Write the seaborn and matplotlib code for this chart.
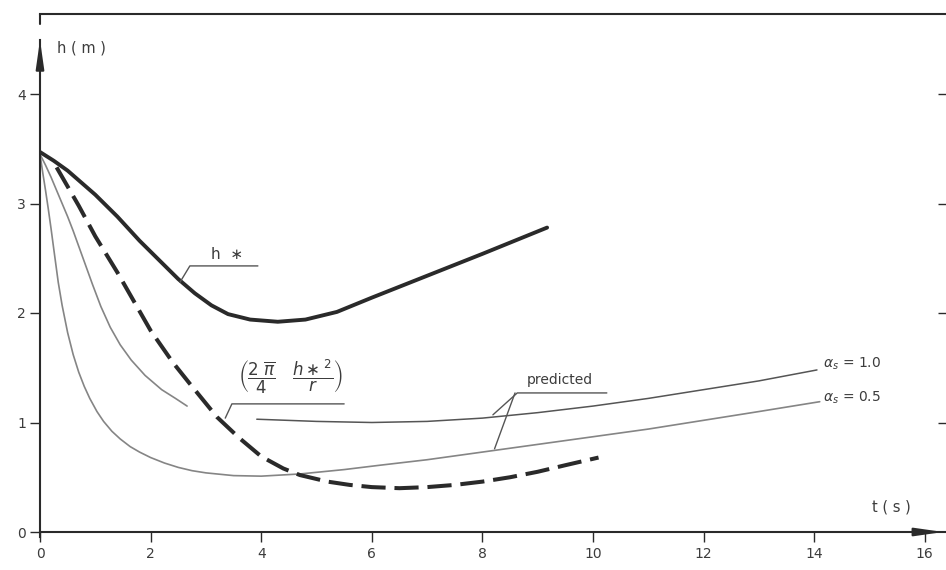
import matplotlib
matplotlib.use("Agg")
import matplotlib.pyplot as plt
import pandas as pd
import seaborn as sns

# ---------------- data ----------------
hstar_t = [0, 0.25, 0.5, 0.75, 1.0, 1.4, 1.8, 2.2, 2.5, 2.8, 3.1, 3.4, 3.8, 4.3, 4.8, 5.37, 6.0, 7.0, 8.0, 9.17]
hstar_h = [3.47, 3.39, 3.30, 3.19, 3.08, 2.88, 2.66, 2.46, 2.31, 2.18, 2.07, 1.99, 1.94, 1.92, 1.94, 2.01, 2.14, 2.34, 2.54, 2.78]

bound_t = [0.3, 0.7, 1.0, 1.4, 2.0, 2.4, 2.7, 3.2, 3.6, 4.0, 4.4, 4.7, 5.2, 5.6, 6.0, 6.5, 7.0, 7.5, 8.0, 8.5, 9.0, 9.5, 10.1]
bound_h = [3.33, 2.98, 2.70, 2.37, 1.84, 1.55, 1.36, 1.05, 0.86, 0.69, 0.58, 0.52, 0.46, 0.43, 0.41, 0.40, 0.41, 0.43, 0.46, 0.50, 0.55, 0.61, 0.68]

mid_t = [0, 0.1, 0.2, 0.3, 0.4, 0.5, 0.6, 0.7, 0.8, 0.95, 1.1, 1.27, 1.45, 1.65, 1.9, 2.2, 2.45, 2.66]
mid_h = [3.45, 3.35, 3.24, 3.12, 3.00, 2.88, 2.75, 2.61, 2.47, 2.26, 2.06, 1.87, 1.71, 1.57, 1.43, 1.30, 1.22, 1.15]

a05_t = [0, 0.05, 0.1, 0.15, 0.2, 0.25, 0.33, 0.4, 0.5, 0.6, 0.7, 0.8, 0.9, 1.03, 1.15, 1.3, 1.45, 1.63, 1.8, 2.0,
         2.25, 2.5, 2.75, 3.0, 3.5, 4.0, 4.7, 5.5, 6.15, 7, 8, 9, 10, 11, 12, 13, 14.1]
a05_h = [3.45, 3.28, 3.12, 2.95, 2.77, 2.58, 2.28, 2.07, 1.82, 1.62, 1.46, 1.33, 1.22, 1.10, 1.01, 0.92, 0.85, 0.78, 0.73, 0.68,
         0.63, 0.59, 0.56, 0.54, 0.515, 0.51, 0.53, 0.57, 0.61, 0.66, 0.73, 0.80, 0.87, 0.94, 1.02, 1.10, 1.19]

a10_t = [3.92, 5, 6, 7, 8, 9, 10, 11, 12, 13, 14.05]
a10_h = [1.03, 1.01, 1.00, 1.01, 1.04, 1.09, 1.15, 1.22, 1.30, 1.38, 1.48]

x_ticks = [0, 2, 4, 6, 8, 10, 12, 14, 16]
x_tick_labels = ["0", "2", "4", "6", "8", "10", "12", "14", "16"]
y_ticks = [0, 1, 2, 3, 4]
y_tick_labels = ["0", "1", "2", "3", "4"]

# ---------------- style ----------------
sns.set_theme(style="white")
plt.rcParams["font.family"] = ["DejaVu Sans"]
plt.rcParams["mathtext.fontset"] = "dejavusans"

ink = "#2a2a2a"
txt = "#3c3c3c"
thin_light = "#858585"
thin_dark = "#555555"

fig = plt.figure(figsize=(9.46, 5.70), dpi=100)
ax = fig.add_axes([40 / 946, 38 / 570, 906 / 946, 518 / 570])

def draw(t, h, **kw):
    df = pd.DataFrame({"t": t, "h": h})
    sns.lineplot(data=df, x="t", y="h", ax=ax, sort=False, estimator=None, **kw)

draw(mid_t, mid_h, color=thin_light, linewidth=1.2)
draw(a05_t, a05_h, color=thin_light, linewidth=1.2)
draw(a10_t, a10_h, color=thin_dark, linewidth=1.1)
draw(bound_t, bound_h, color=ink, linewidth=2.9, linestyle=(0, (6, 2.2)))
draw(hstar_t, hstar_h, color=ink, linewidth=2.8)

ax.set_xlim(0, 906 / 55.3)
ax.set_ylim(0, 518 / 109.5)
ax.set_xlabel("")
ax.set_ylabel("")

ax.set_xticks(x_ticks)
ax.set_xticklabels(x_tick_labels)
ax.set_yticks(y_ticks)
ax.set_yticklabels(y_tick_labels)
ax.tick_params(axis="both", direction="out", length=7, width=1.0, color=ink,
               labelsize=10, labelcolor=txt, bottom=True, left=True)
ax.tick_params(axis="x", pad=4)
ax.tick_params(axis="y", pad=3)

for s in ["left", "bottom", "top"]:
    ax.spines[s].set_visible(True)
    ax.spines[s].set_color(ink)
    ax.spines[s].set_linewidth(1.5)
ax.spines["right"].set_visible(False)
ax.spines["left"].set_bounds(-0.05, 4.49)

# right-edge ticks (inward)
sec = ax.secondary_yaxis("right")
sec.set_yticks([1, 2, 3, 4])
sec.tick_params(direction="in", length=6, width=1.0, color=ink, labelright=False)
sec.spines["right"].set_visible(False)

# axis arrows
ax.annotate("", xy=(0, 1.0 - (40 - 14) / 518), xycoords="axes fraction",
            xytext=(0, 1.0 - (66 - 14) / 518), textcoords="axes fraction",
            arrowprops=dict(arrowstyle="-|>,head_length=1.4,head_width=0.2", color=ink, lw=1.5,
                            shrinkA=0, shrinkB=0))
ax.annotate("", xy=(0.997, 0), xycoords="axes fraction",
            xytext=(0.965, 0), textcoords="axes fraction",
            arrowprops=dict(arrowstyle="-|>,head_length=1.4,head_width=0.2", color=ink, lw=1.5,
                            shrinkA=0, shrinkB=0))
# small tick at top-left corner of the frame
ax.plot([0, 0], [1.0, 1.0 - 10 / 518], transform=ax.transAxes, color=ink, lw=1.5, clip_on=False)

# axis titles
ax.text(0.31, 4.42, "h ( m )", fontsize=10.5, color=txt, ha="left", va="center")
ax.text(15.4, 0.23, "t ( s )", fontsize=10.5, color=txt, ha="center", va="center")

# labels with leader lines
lead = dict(color=thin_dark, lw=1.0)
# h*
ax.text(3.1, 2.53, "h  \u2217", fontsize=11, color=txt, ha="left", va="center")
ax.plot([2.53, 2.71, 3.94], [2.28, 2.43, 2.43], **lead)
# formula
ax.text(4.52, 1.42, r"$\left(\dfrac{2\ \overline{\pi}}{4}\quad\dfrac{h\ast^{2}}{r}\right)$",
        fontsize=12, color=txt, ha="center", va="center")
ax.plot([3.35, 3.47, 5.5], [1.04, 1.17, 1.17], **lead)
# predicted
ax.text(8.8, 1.39, "predicted", fontsize=10, color=txt, ha="left", va="center")
ax.plot([8.19, 8.63, 10.25], [1.07, 1.27, 1.27], **lead)
ax.plot([8.59, 8.22], [1.27, 0.76], **lead)
# alpha labels
ax.text(14.16, 1.54, r"$\alpha_s$ = 1.0", fontsize=10, color=txt, ha="left", va="center")
ax.text(14.16, 1.23, r"$\alpha_s$ = 0.5", fontsize=10, color=txt, ha="left", va="center")

fig.savefig("out.png", dpi=100)
